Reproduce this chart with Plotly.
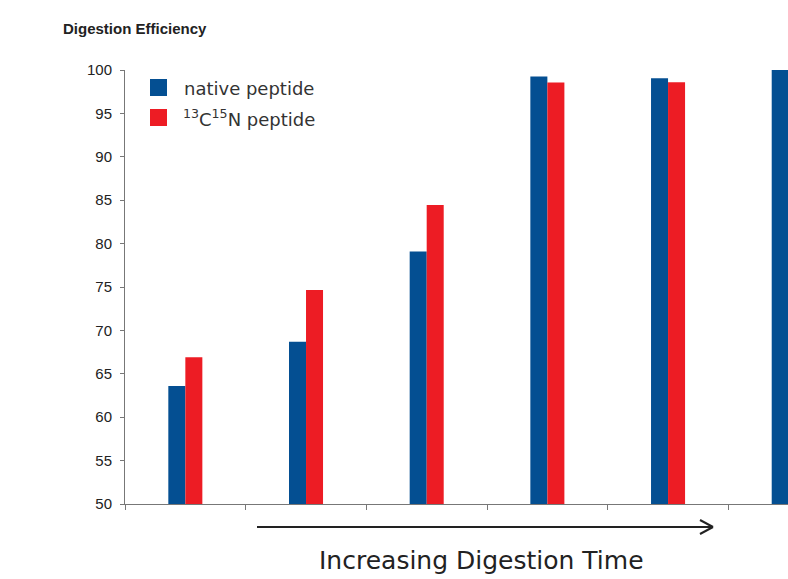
import plotly.graph_objects as go

categories = ["T1", "T2", "T3", "T4", "T5", "T6"]
native = [63.6, 68.7, 79.1, 99.25, 99.05, 100.0]
labeled = [66.9, 74.65, 84.45, 98.55, 98.6, 98.6]
series_names = ["native peptide", "<sup>13</sup>C<sup>15</sup>N peptide"]
y_ticks = [50, 55, 60, 65, 70, 75, 80, 85, 90, 95, 100]

BLUE = "#044F92"
RED = "#ED1C24"

W, H = 788, 579
L, R, T, B = 125, 0, 70, 75
pw, ph = W - L - R, H - T - B

def px(x):
    return (x - L) / pw

def py(y):
    return (H - B - y) / ph

fig = go.Figure()
fig.add_trace(go.Bar(x=categories, y=native, name=series_names[0], marker=dict(color=BLUE, line=dict(width=0))))
fig.add_trace(go.Bar(x=categories, y=labeled, name=series_names[1], marker=dict(color=RED, line=dict(width=0))))

shapes = []
# legend squares
shapes.append(dict(type="rect", xref="paper", yref="paper", x0=px(150), x1=px(167), y0=py(96), y1=py(79), fillcolor=BLUE, line=dict(width=0)))
shapes.append(dict(type="rect", xref="paper", yref="paper", x0=px(150), x1=px(167), y0=py(126), y1=py(109), fillcolor=RED, line=dict(width=0)))
# arrow
shapes.append(dict(type="line", xref="paper", yref="paper", x0=px(257), x1=px(713), y0=py(527), y1=py(527), line=dict(color="#222", width=2)))
shapes.append(dict(type="line", xref="paper", yref="paper", x0=px(700), x1=px(713), y0=py(520), y1=py(527), line=dict(color="#222", width=2)))
shapes.append(dict(type="line", xref="paper", yref="paper", x0=px(700), x1=px(713), y0=py(534), y1=py(527), line=dict(color="#222", width=2)))

annotations = [
    dict(text="<b>Digestion Efficiency</b>", xref="paper", yref="paper", x=px(61), y=py(28), xanchor="left", yanchor="middle",
         showarrow=False, font=dict(family="Liberation Sans, Arial", size=15, color="#222")),
    dict(text=series_names[0], xref="paper", yref="paper", x=px(182), y=py(88), xanchor="left", yanchor="middle",
         showarrow=False, font=dict(family="DejaVu Sans", size=18, color="#333")),
    dict(text=series_names[1], xref="paper", yref="paper", x=px(181), y=py(118), xanchor="left", yanchor="middle",
         showarrow=False, font=dict(family="DejaVu Sans", size=18, color="#333")),
    dict(text="Increasing Digestion Time", xref="paper", yref="paper", x=px(481), y=py(560), xanchor="center", yanchor="middle",
         showarrow=False, font=dict(family="DejaVu Sans", size=25, color="#222")),
]

fig.update_layout(
    width=W, height=H,
    margin=dict(l=L, r=R, t=T, b=B, pad=0),
    paper_bgcolor="white", plot_bgcolor="white",
    barmode="group", bargap=0.718, bargroupgap=0,
    showlegend=False,
    shapes=shapes, annotations=annotations,
    xaxis=dict(type="category", range=[-0.5, 4.994], showticklabels=False, tickson="boundaries",
               ticks="outside", ticklen=5, tickcolor="#777", showline=True, linecolor="#777", linewidth=1,
               showgrid=False, zeroline=False),
    yaxis=dict(range=[50, 100], tickvals=y_ticks, ticks="outside", ticklen=4, tickcolor="#777",
               showline=True, linecolor="#777", linewidth=1, showgrid=False, zeroline=False,
               ticklabelstandoff=5,
               tickfont=dict(family="Liberation Sans, Arial", size=15, color="#222")),
)

fig.write_html("out.html", config={"displayModeBar": False},
               post_script="document.body.style.margin='0';document.body.style.overflow='hidden';")
